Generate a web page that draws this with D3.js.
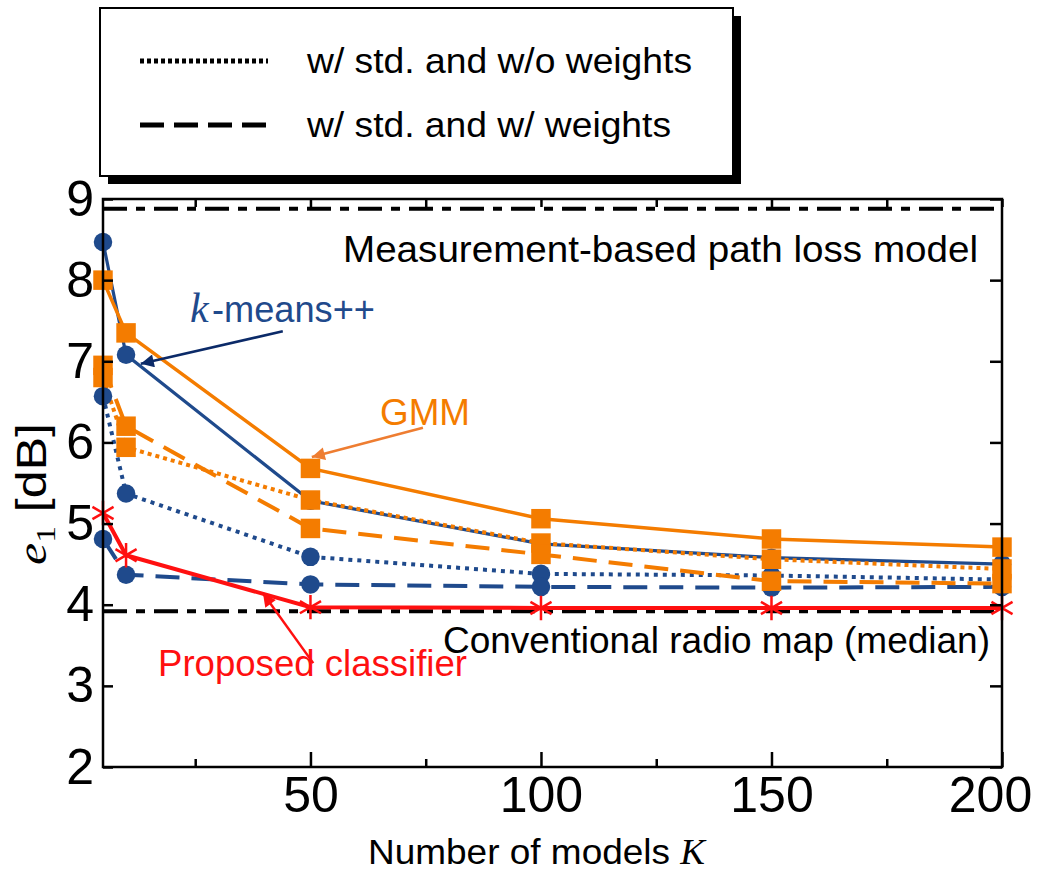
<!DOCTYPE html>
<html>
<head>
<meta charset="utf-8">
<script src="https://cdn.jsdelivr.net/npm/d3@7"></script>
<style>
body{margin:0;background:#fff;}
svg{font-family:"Liberation Sans",Arial,sans-serif;}
</style>
</head>
<body>
<svg id="chart" width="1038" height="873"></svg>
<script>
// number of models
var K = [5, 10, 50, 100, 150, 200];
// k-means++ : solid = w/o std, dotted = w/ std w/o weights, dashed = w/ std w/ weights
var kmNoStd   = [8.47, 7.08, 5.28, 4.75, 4.58, 4.50];
var kmStd     = [6.57, 5.37, 4.59, 4.38, 4.36, 4.31];
var kmStdW    = [4.81, 4.37, 4.25, 4.22, 4.21, 4.22];
// GMM
var gmmNoStd  = [8.00, 7.35, 5.68, 5.06, 4.81, 4.71];
var gmmStd    = [6.80, 5.94, 5.29, 4.76, 4.56, 4.44];
var gmmStdW   = [6.95, 6.20, 4.94, 4.62, 4.29, 4.26];
// proposed classifier
var proposed  = [5.13, 4.61, 3.97, 3.96, 3.96, 3.96];
// reference lines
var measBased = 8.88;
var convMap   = 3.92;
var xMajor = [50, 100, 150, 200];
var xMinor = [25, 75, 125, 175];
var yTicks = [2, 3, 4, 5, 6, 7, 8, 9];

var blue = "#1f4a8c", orange = "#f47c00", red = "#ff1010";
var serif = "'Liberation Serif', 'Times New Roman', serif";

var svg = d3.select("#chart");
var xs = d3.scaleLinear().domain([5, 200]).range([103, 1002]);
var ys = d3.scaleLinear().domain([2, 9]).range([767, 199]);

// squeeze text horizontally like the original (narrow look)
function fit(sel, w) {
    sel.attr("textLength", w).attr("lengthAdjust", "spacingAndGlyphs");
}

// reference lines
[measBased, convMap].forEach(function(v) {
    svg.append("line").attr("x1", xs(5)).attr("x2", xs(200))
        .attr("y1", ys(v)).attr("y2", ys(v))
        .attr("stroke", "#000").attr("stroke-width", 4).attr("stroke-dasharray", "24,9,9,9");
});

var series = [
    {v: kmNoStd, c: blue, dash: null, w: 3.2, m: d3.symbolCircle, s: 270},
    {v: kmStd, c: blue, dash: "4,5", w: 4, m: d3.symbolCircle, s: 270},
    {v: kmStdW, c: blue, dash: "24,12", w: 4, m: d3.symbolCircle, s: 270},
    {v: gmmNoStd, c: orange, dash: null, w: 3.5, m: d3.symbolSquare, s: 380},
    {v: gmmStd, c: orange, dash: "4,4", w: 4, m: d3.symbolSquare, s: 380},
    {v: gmmStdW, c: orange, dash: "24,12", w: 4, m: d3.symbolSquare, s: 380}
];

var line = d3.line().x(function(d, i) { return xs(K[i]); }).y(function(d) { return ys(d); });

series.forEach(function(s) {
    svg.append("path").attr("d", line(s.v)).attr("fill", "none")
        .attr("stroke", s.c).attr("stroke-width", s.w)
        .attr("stroke-dasharray", s.dash);
});
series.forEach(function(s) {
    svg.selectAll(null).data(s.v).enter().append("path")
        .attr("transform", function(d, i) { return "translate(" + xs(K[i]) + "," + ys(d) + ")"; })
        .attr("d", d3.symbol(s.m, s.s))
        .attr("fill", s.c);
});

// proposed
svg.append("path").attr("d", line(proposed)).attr("fill", "none")
    .attr("stroke", red).attr("stroke-width", 4);
svg.selectAll(null).data(proposed).enter().append("path")
    .attr("transform", function(d, i) { return "translate(" + xs(K[i]) + "," + ys(d) + ")"; })
    .attr("d", d3.symbol(d3.symbolAsterisk, 420))
    .attr("fill", "none").attr("stroke", red).attr("stroke-width", 2.5);

// frame + axes (ticks point inward)
svg.append("rect").attr("x", xs(5)).attr("y", ys(9))
    .attr("width", xs(200) - xs(5)).attr("height", ys(2) - ys(9))
    .attr("fill", "none").attr("stroke", "#000").attr("stroke-width", 2.5);

var gx = svg.append("g").attr("transform", "translate(0," + ys(2) + ")")
    .call(d3.axisBottom(xs).tickValues(xMajor).tickSize(-15).tickPadding(9));
gx.select(".domain").remove();
gx.selectAll("text").attr("font-size", 50).style("font-family", "'Liberation Sans', Arial")
    .attr("dx", function(d) { return d == 200 ? -12 : 0; });
var gxm = svg.append("g").attr("transform", "translate(0," + ys(2) + ")")
    .call(d3.axisBottom(xs).tickValues(xMinor).tickSize(-8).tickFormat(""));
gxm.select(".domain").remove();
var gt = svg.append("g").attr("transform", "translate(0," + ys(9) + ")")
    .call(d3.axisTop(xs).tickValues(xMajor.concat(xMinor)).tickSize(-8).tickFormat(""));
gt.select(".domain").remove();

var gy = svg.append("g").attr("transform", "translate(" + xs(5) + ",0)")
    .call(d3.axisLeft(ys).tickValues(yTicks).tickFormat(d3.format("d")).tickSize(-10).tickPadding(9));
gy.select(".domain").remove();
gy.selectAll("text").attr("font-size", 50).style("font-family", "'Liberation Sans', Arial");
var gyr = svg.append("g").attr("transform", "translate(" + xs(200) + ",0)")
    .call(d3.axisRight(ys).tickValues(yTicks).tickSize(-12).tickFormat(""));
gyr.select(".domain").remove();
svg.selectAll(".tick line").attr("stroke-width", 2.5);

// axis titles
var xt = svg.append("text").attr("x", 368).attr("y", 864).attr("font-size", 35);
xt.append("tspan").text("Number of models ");
xt.append("tspan").style("font-family", serif).attr("font-style", "italic").text("K");
fit(xt, 337);

var yl = svg.append("text").attr("transform", "translate(46,494) rotate(-90)")
    .attr("text-anchor", "middle").attr("font-size", 42);
yl.append("tspan").style("font-family", serif).attr("font-style", "italic").text("e");
yl.append("tspan").attr("font-size", 28).attr("dy", 9).style("font-family", serif).text("1");
yl.append("tspan").attr("dy", -9).text(" [dB]");
fit(yl, 142);

// annotations
var t1 = svg.append("text").attr("x", 343).attr("y", 262).attr("font-size", 37)
    .text("Measurement-based path loss model");
fit(t1, 635);
var t2 = svg.append("text").attr("x", 443).attr("y", 653).attr("font-size", 37)
    .text("Conventional radio map (median)");
fit(t2, 547);
svg.append("text").attr("x", 190).attr("y", 322).attr("font-size", 42)
    .style("font-family", serif).attr("font-style", "italic")
    .attr("fill", blue).text("k");
var t3 = svg.append("text").attr("x", 212).attr("y", 322).attr("font-size", 36)
    .attr("fill", blue).text("-means++");
fit(t3, 163);
var t4 = svg.append("text").attr("x", 380).attr("y", 425).attr("font-size", 37)
    .attr("fill", orange).text("GMM");
fit(t4, 90);
var t5 = svg.append("text").attr("x", 158).attr("y", 676).attr("font-size", 36)
    .attr("fill", red).text("Proposed classifier");
fit(t5, 309);

// arrows
var defs = svg.append("defs");
function arrowHead(id, col) {
    defs.append("marker").attr("id", id).attr("viewBox", "0 0 10 10")
        .attr("refX", 10).attr("refY", 5).attr("markerUnits", "userSpaceOnUse")
        .attr("markerWidth", 18).attr("markerHeight", 13).attr("orient", "auto")
        .append("path").attr("d", "M0,0L10,5L0,10z").attr("fill", col);
}
arrowHead("ab", "#0b2a68");
arrowHead("ao", "#ee7d31");
arrowHead("ar", red);
function arrow(a, b, col, id, w) {
    svg.append("line").attr("x1", xs(a[0])).attr("y1", ys(a[1]))
        .attr("x2", xs(b[0])).attr("y2", ys(b[1]))
        .attr("stroke", col).attr("stroke-width", w).attr("marker-end", "url(#" + id + ")");
}
arrow([44, 7.37], [13.2, 6.97], "#0b2a68", "ab", 2.5);
arrow([74.4, 6.18], [50.3, 5.82], "#ee7d31", "ao", 2.5);
arrow([50.6, 3.28], [39.7, 4.14], red, "ar", 2.5);

// legend box with shadow
svg.append("rect").attr("x", 108).attr("y", 16).attr("width", 633).attr("height", 168).attr("fill", "#000");
svg.append("rect").attr("x", 100).attr("y", 8).attr("width", 633).attr("height", 168)
    .attr("fill", "#fff").attr("stroke", "#000").attr("stroke-width", 2);
svg.append("line").attr("x1", 140).attr("x2", 268).attr("y1", 61).attr("y2", 61)
    .attr("stroke", "#000").attr("stroke-width", 5).attr("stroke-dasharray", "4,3");
svg.append("line").attr("x1", 140).attr("x2", 268).attr("y1", 125).attr("y2", 125)
    .attr("stroke", "#000").attr("stroke-width", 5).attr("stroke-dasharray", "24,10");
var l1 = svg.append("text").attr("x", 307).attr("y", 73).attr("font-size", 35).text("w/ std. and w/o weights");
fit(l1, 385);
var l2 = svg.append("text").attr("x", 307).attr("y", 137).attr("font-size", 35).text("w/ std. and w/ weights");
fit(l2, 364);
</script>
</body>
</html>
